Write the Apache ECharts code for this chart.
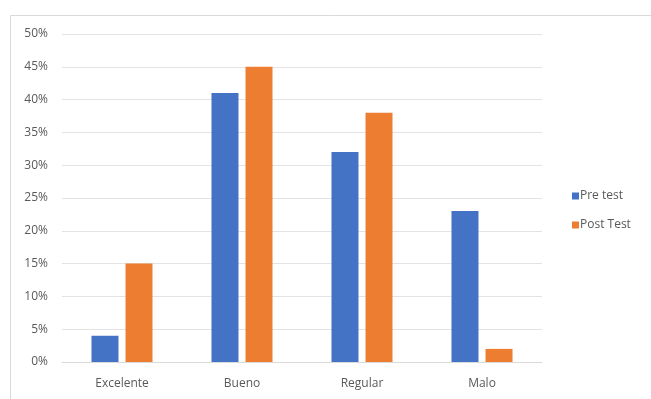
<!DOCTYPE html>
<html>
<head>
<meta charset="utf-8">
<script src="https://cdn.jsdelivr.net/npm/echarts@6/dist/echarts.min.js"></script>
<style>
  html, body { margin: 0; padding: 0; background: #fff; }
  #chart { width: 651px; height: 399px; }
</style>
</head>
<body>
<div id="chart"></div>
<script>
var categories = ['Excelente', 'Bueno', 'Regular', 'Malo']
var preTest = [4, 41, 32, 23]
var postTest = [15, 45, 38, 2]
var seriesNames = ['Pre test', 'Post Test']

var myChart = echarts.init(document.getElementById('chart'))
var option = {
  backgroundColor: '#fff',
  textStyle: { fontFamily: '"Open Sans", "Liberation Sans", sans-serif' },
  graphic: [
    {
      // marco del gráfico
      type: 'rect',
      left: 8,
      top: 13,
      shape: { width: 700, height: 450 },
      style: { fill: 'none', stroke: '#d9d9d9', lineWidth: 1 },
      silent: true
    }
  ],
  grid: {
    left: 62,
    right: 109,
    top: 34,
    bottom: 37
  },
  legend: {
    orient: 'vertical',
    left: 567,
    top: 185,
    itemWidth: 7,
    itemHeight: 7,
    itemGap: 17,
    icon: 'rect',
    textStyle: { color: '#595959', fontSize: 12, padding: [0, 0, 0, -4] },
    data: seriesNames
  },
  xAxis: {
    type: 'category',
    data: categories,
    axisLine: { lineStyle: { color: '#d9d9d9' } },
    axisTick: { show: false },
    axisLabel: { color: '#595959', fontSize: 12, margin: 16 }
  },
  yAxis: {
    type: 'value',
    min: 0,
    max: 50,
    interval: 5,
    axisLine: { show: false },
    axisTick: { show: false },
    axisLabel: { color: '#595959', fontSize: 12, margin: 14, formatter: '{value}%' },
    splitLine: { lineStyle: { color: '#e3e3e3' } }
  },
  series: [
    {
      name: seriesNames[0],
      type: 'bar',
      data: preTest,
      barWidth: 27,
      barGap: '26%',
      itemStyle: { color: '#4472C4' }
    },
    {
      name: seriesNames[1],
      type: 'bar',
      data: postTest,
      barWidth: 27,
      itemStyle: { color: '#ED7D31' }
    }
  ]
}
option && myChart.setOption(option)
</script>
</body>
</html>
